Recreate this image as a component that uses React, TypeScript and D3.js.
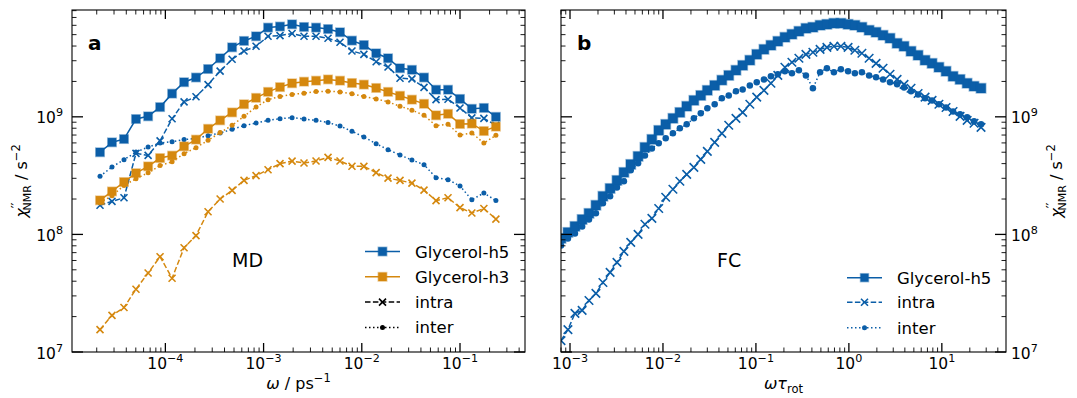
import React from 'react';
import * as d3 from 'd3';

// ---------------- data ----------------
// Panel a (MD): angular frequency in ps^-1
const xMD = [2.16e-5, 2.86e-5, 3.79e-5, 5.02e-5, 6.67e-5, 8.83e-5, 1.17e-4, 1.55e-4, 2.05e-4, 2.72e-4, 3.61e-4, 4.78e-4, 6.32e-4, 8.38e-4, 1.11e-3, 1.47e-3, 1.95e-3, 2.58e-3, 3.42e-3, 4.53e-3, 6.0e-3, 7.94e-3, 1.05e-2, 1.40e-2, 1.85e-2, 2.45e-2, 3.24e-2, 4.30e-2, 5.70e-2, 7.55e-2, 0.100, 0.132, 0.175, 0.232];
const h5Total = [5.0e8, 6.07e8, 6.47e8, 9.58e8, 1.01e9, 1.21e9, 1.575e9, 1.97e9, 2.16e9, 2.55e9, 3.15e9, 3.90e9, 4.42e9, 4.84e9, 5.74e9, 5.86e9, 6.12e9, 5.81e9, 5.74e9, 5.58e9, 5.24e9, 4.45e9, 4.08e9, 3.47e9, 3.15e9, 2.59e9, 2.51e9, 2.16e9, 1.70e9, 1.70e9, 1.42e9, 1.17e9, 1.19e9, 1.0e9];
const h5Intra = [1.77e8, 1.91e8, 2.05e8, 4.89e8, 4.70e8, 6.25e8, 9.62e8, 1.34e9, 1.48e9, 1.88e9, 2.45e9, 3.09e9, 3.63e9, 3.98e9, 4.84e9, 4.91e9, 5.11e9, 4.84e9, 4.84e9, 4.66e9, 4.31e9, 3.63e9, 3.40e9, 2.94e9, 2.65e9, 2.13e9, 2.10e9, 1.78e9, 1.40e9, 1.41e9, 1.19e9, 9.8e8, 9.7e8, 8.47e8];
const h5Inter = [3.12e8, 3.74e8, 4.32e8, 5.01e8, 5.53e8, 5.98e8, 6.15e8, 6.40e8, 6.56e8, 6.92e8, 7.28e8, 7.83e8, 8.41e8, 8.86e8, 9.33e8, 9.65e8, 9.84e8, 9.58e8, 9.33e8, 8.93e8, 8.35e8, 7.53e8, 6.73e8, 5.91e8, 5.26e8, 4.73e8, 4.29e8, 3.92e8, 3.04e8, 2.92e8, 2.58e8, 1.97e8, 2.25e8, 1.94e8];
const h3Total = [1.95e8, 2.32e8, 2.79e8, 3.32e8, 3.79e8, 4.46e8, 4.68e8, 5.61e8, 6.40e8, 7.91e8, 9.33e8, 1.09e9, 1.28e9, 1.45e9, 1.63e9, 1.79e9, 1.93e9, 1.99e9, 2.03e9, 2.08e9, 2.03e9, 1.94e9, 1.88e9, 1.76e9, 1.63e9, 1.51e9, 1.40e9, 1.29e9, 1.03e9, 1.06e9, 8.69e8, 8.75e8, 7.57e8, 8.25e8];
const h3Intra = [1.55e7, 2.05e7, 2.39e7, 3.42e7, 4.70e7, 6.46e7, 4.24e7, 7.71e7, 9.77e7, 1.56e8, 2.0e8, 2.37e8, 2.88e8, 3.16e8, 3.55e8, 4.0e8, 4.20e8, 4.05e8, 4.21e8, 4.52e8, 4.21e8, 3.80e8, 3.79e8, 3.35e8, 3.01e8, 2.88e8, 2.73e8, 2.38e8, 1.94e8, 2.05e8, 1.69e8, 1.52e8, 1.66e8, 1.35e8];
const h3Inter = [1.87e8, 2.13e8, 2.61e8, 2.98e8, 3.34e8, 3.85e8, 4.14e8, 4.86e8, 5.47e8, 6.31e8, 7.34e8, 8.47e8, 1.01e9, 1.21e9, 1.40e9, 1.49e9, 1.55e9, 1.59e9, 1.64e9, 1.65e9, 1.63e9, 1.57e9, 1.49e9, 1.42e9, 1.34e9, 1.23e9, 1.14e9, 1.03e9, 8.41e8, 8.63e8, 7.00e8, 7.28e8, 5.98e8, 6.96e8];

// Panel b (FC): reduced frequency omega*tau_rot
const xFC = [8.0e-4, 9.5e-4, 1.13e-3, 1.35e-3, 1.6e-3, 1.9e-3, 2.26e-3, 2.7e-3, 3.2e-3, 3.8e-3, 4.5e-3, 5.4e-3, 6.4e-3, 7.6e-3, 9.0e-3, 1.07e-2, 1.28e-2, 1.52e-2, 1.8e-2, 2.15e-2, 2.55e-2, 3.0e-2, 3.6e-2, 4.3e-2, 5.1e-2, 6.1e-2, 7.2e-2, 8.6e-2, 0.102, 0.122, 0.145, 0.172, 0.205, 0.244, 0.29, 0.345, 0.41, 0.49, 0.58, 0.69, 0.82, 0.98, 1.16, 1.38, 1.65, 1.96, 2.33, 2.77, 3.3, 3.92, 4.66, 5.55, 6.6, 7.85, 9.3, 11.1, 13.2, 15.7, 18.7, 22.2, 26.4];
const fcTotal = [9.25e7, 1.04e8, 1.17e8, 1.34e8, 1.51e8, 1.77e8, 2.11e8, 2.46e8, 2.88e8, 3.37e8, 3.94e8, 4.61e8, 5.50e8, 6.43e8, 7.67e8, 8.63e8, 9.71e8, 1.09e9, 1.23e9, 1.38e9, 1.52e9, 1.68e9, 1.85e9, 2.05e9, 2.25e9, 2.49e9, 2.74e9, 3.03e9, 3.40e9, 3.75e9, 4.06e9, 4.39e9, 4.75e9, 5.04e9, 5.34e9, 5.66e9, 5.78e9, 6.01e9, 6.12e9, 6.25e9, 6.25e9, 6.12e9, 6.01e9, 5.78e9, 5.45e9, 5.24e9, 4.94e9, 4.66e9, 4.22e9, 3.98e9, 3.61e9, 3.34e9, 3.03e9, 2.85e9, 2.64e9, 2.44e9, 2.21e9, 2.08e9, 1.93e9, 1.82e9, 1.75e9];
const fcIntra = [1.25e7, 1.55e7, 2.13e7, 2.26e7, 2.74e7, 3.15e7, 3.90e7, 4.75e7, 5.78e7, 7.17e7, 8.55e7, 1.00e8, 1.22e8, 1.37e8, 1.66e8, 2.07e8, 2.42e8, 2.83e8, 3.24e8, 3.72e8, 4.35e8, 5.09e8, 6.07e8, 7.24e8, 8.47e8, 9.71e8, 1.09e9, 1.28e9, 1.47e9, 1.68e9, 1.93e9, 2.25e9, 2.64e9, 2.91e9, 3.15e9, 3.40e9, 3.54e9, 3.75e9, 3.90e9, 3.98e9, 3.98e9, 3.90e9, 3.68e9, 3.47e9, 3.15e9, 2.85e9, 2.59e9, 2.30e9, 2.08e9, 1.89e9, 1.75e9, 1.58e9, 1.47e9, 1.38e9, 1.28e9, 1.20e9, 1.11e9, 1.01e9, 9.34e8, 8.81e8, 8.14e8];
const fcInter = [8.06e7, 9.25e7, 1.02e8, 1.17e8, 1.34e8, 1.51e8, 1.84e8, 2.11e8, 2.51e8, 2.83e8, 3.51e8, 4.02e8, 4.70e8, 5.39e8, 5.95e8, 6.56e8, 7.24e8, 7.98e8, 8.63e8, 9.71e8, 1.07e9, 1.18e9, 1.28e9, 1.44e9, 1.52e9, 1.65e9, 1.71e9, 1.85e9, 1.97e9, 2.08e9, 2.21e9, 2.30e9, 2.44e9, 2.35e9, 2.49e9, 2.25e9, 1.75e9, 2.39e9, 2.59e9, 2.39e9, 2.54e9, 2.44e9, 2.35e9, 2.39e9, 2.25e9, 2.17e9, 2.08e9, 1.97e9, 1.89e9, 1.78e9, 1.65e9, 1.55e9, 1.44e9, 1.38e9, 1.28e9, 1.20e9, 1.11e9, 1.05e9, 9.90e8, 9.16e8, 8.63e8];

const legendLabelsMD = ['Glycerol-h5', 'Glycerol-h3', 'intra', 'inter'];
const legendLabelsFC = ['Glycerol-h5', 'intra', 'inter'];

// ---------------- styling ----------------
const W = 1077;
const H = 398;
const BLUE = '#0b5ea8';
const ORANGE = '#d5880e';
const INK = '#000';
const FONT = '"DejaVu Sans", Verdana, sans-serif';
const TICK_FS = 15.5;
const DASH: Record<string, string | undefined> = { solid: undefined, dashed: '5.5,2.4', dotted: '1.5,2.5' };

const PL = { x0: 72, x1: 525, y0: 10, y1: 352 };
const PR = { x0: 561, x1: 1006, y0: 10, y1: 352 };

const yScale = d3.scaleLog().domain([1e7, 8.1e9]).range([PL.y1, PL.y0]);
const xL = d3.scaleLog().domain([1.12e-5, 0.459]).range([PL.x0, PL.x1]);
const xR = d3.scaleLog().domain([8.0e-4, 49]).range([PR.x0, PR.x1]);

type Kind = 'square' | 'cross' | 'dot';

function Marker({ kind, x, y, color, size }: { kind: Kind; x: number; y: number; color: string; size: number }) {
  if (kind === 'square') {
    return <rect x={x - size / 2} y={y - size / 2} width={size} height={size} fill={color} stroke={color} strokeOpacity={0.4} strokeWidth={1.5} />;
  }
  if (kind === 'cross') {
    const h = size / 2;
    return <path d={`M${x - h},${y - h}L${x + h},${y + h}M${x - h},${y + h}L${x + h},${y - h}`} stroke={color} strokeWidth={1.6} fill="none" />;
  }
  return <circle cx={x} cy={y} r={size / 2} fill={color} />;
}

function Series({ xs, ys, sx, color, dash, kind, size, lw = 1.5 }: any) {
  const pts: [number, number][] = xs.map((x: number, i: number) => [sx(x), yScale(ys[i])]);
  const line = d3.line()(pts) || '';
  return (
    <g>
      <path d={line} fill="none" stroke={color} strokeWidth={lw} strokeDasharray={DASH[dash]} />
      {pts.map((p, i) => <Marker key={i} kind={kind} x={p[0]} y={p[1]} color={color} size={size} />)}
    </g>
  );
}

function logTicks(domain: number[]) {
  const [a, b] = domain;
  const majors: number[] = [];
  const minors: number[] = [];
  for (let e = Math.floor(Math.log10(a)); e <= Math.ceil(Math.log10(b)); e++) {
    for (let k = 1; k <= 9; k++) {
      const v = k * Math.pow(10, e);
      if (v >= a * 0.999 && v <= b * 1.001) (k === 1 ? majors : minors).push(v);
    }
  }
  return { majors, minors };
}

function PowLabel({ v, x, y, anchor }: { v: number; x: number; y: number; anchor: string }) {
  const e = Math.round(Math.log10(v));
  const s = e < 0 ? `\u2212${-e}` : `${e}`;
  return (
    <text x={x} y={y} textAnchor={anchor} fontSize={TICK_FS} fontFamily={FONT} fill={INK}>
      10<tspan dy={-7} fontSize={TICK_FS * 0.72}>{s}</tspan>
    </text>
  );
}

function Frame({ P, sx, yLabelsSide }: { P: any; sx: any; yLabelsSide: 'left' | 'right' }) {
  const xt = logTicks(sx.domain());
  const yt = logTicks(yScale.domain());
  const MAJ = 9;
  const MIN = 4.5;
  const els: any[] = [];
  xt.majors.forEach((v, i) => {
    const x = sx(v);
    els.push(<line key={'xm' + i} x1={x} x2={x} y1={P.y1} y2={P.y1 - MAJ} stroke={INK} strokeWidth={1.3} />);
    els.push(<line key={'xmt' + i} x1={x} x2={x} y1={P.y0} y2={P.y0 + MAJ} stroke={INK} strokeWidth={1.3} />);
    els.push(<PowLabel key={'xl' + i} v={v} x={x} y={P.y1 + 17} anchor="middle" />);
  });
  xt.minors.forEach((v, i) => {
    const x = sx(v);
    els.push(<line key={'xn' + i} x1={x} x2={x} y1={P.y1} y2={P.y1 - MIN} stroke={INK} strokeWidth={0.9} />);
    els.push(<line key={'xnt' + i} x1={x} x2={x} y1={P.y0} y2={P.y0 + MIN} stroke={INK} strokeWidth={0.9} />);
  });
  yt.majors.forEach((v, i) => {
    const y = yScale(v);
    els.push(<line key={'ym' + i} x1={P.x0} x2={P.x0 + MAJ + 2} y1={y} y2={y} stroke={INK} strokeWidth={1.3} />);
    els.push(<line key={'ymr' + i} x1={P.x1} x2={P.x1 - MAJ - 2} y1={y} y2={y} stroke={INK} strokeWidth={1.3} />);
    if (yLabelsSide === 'left') els.push(<PowLabel key={'yl' + i} v={v} x={P.x0 - 9} y={y + 6.5} anchor="end" />);
    else els.push(<PowLabel key={'yl' + i} v={v} x={P.x1 + 5} y={y + 6.5} anchor="start" />);
  });
  yt.minors.forEach((v, i) => {
    const y = yScale(v);
    els.push(<line key={'yn' + i} x1={P.x0} x2={P.x0 + MIN} y1={y} y2={y} stroke={INK} strokeWidth={0.9} />);
    els.push(<line key={'ynr' + i} x1={P.x1} x2={P.x1 - MIN} y1={y} y2={y} stroke={INK} strokeWidth={0.9} />);
  });
  return (
    <g>
      <rect x={P.x0} y={P.y0} width={P.x1 - P.x0} height={P.y1 - P.y0} fill="none" stroke={INK} strokeWidth={1.1} />
      {els}
    </g>
  );
}

function YLabel({ x, y }: { x: number; y: number }) {
  return (
    <text transform={`translate(${x},${y}) rotate(-90)`} textAnchor="middle" fontSize={16} fontFamily={FONT} fill={INK}>
      <tspan fontStyle="italic">χ</tspan>
      <tspan dy={-7} fontSize={13}>′′</tspan>
      <tspan dy={11} dx={-8} fontSize={11}>NMR</tspan>
      <tspan dy={-4}> / s</tspan>
      <tspan dy={-7} fontSize={11.5}>−2</tspan>
    </text>
  );
}

function LegendRow({ x, y, label, color, dash, kind, size }: any) {
  return (
    <g>
      <line x1={x} x2={x + 35} y1={y} y2={y} stroke={color} strokeWidth={1.5} strokeDasharray={DASH[dash]} />
      <Marker kind={kind} x={x + 17.5} y={y} color={color} size={size} />
      <text x={x + 50} y={y + 6} fontSize={16.5} fontFamily={FONT} fill={INK}>{label}</text>
    </g>
  );
}

export default function App() {
  const mdStyles = [
    { color: BLUE, dash: 'solid', kind: 'square', size: 8.5 },
    { color: ORANGE, dash: 'solid', kind: 'square', size: 8.5 },
    { color: INK, dash: 'dashed', kind: 'cross', size: 7 },
    { color: INK, dash: 'dotted', kind: 'dot', size: 5 },
  ];
  const fcStyles = [
    { color: BLUE, dash: 'solid', kind: 'square', size: 8 },
    { color: BLUE, dash: 'dashed', kind: 'cross', size: 7 },
    { color: BLUE, dash: 'dotted', kind: 'dot', size: 5 },
  ];
  const mdRows = [251.5, 276.8, 302.1, 327.4];
  const fcRows = [277.7, 302.3, 327.7];
  return (
    <svg width={W} height={H} style={{ position: 'absolute', left: 0, top: 0, background: '#fff' }} fontFamily={FONT}>
      <defs>
        <clipPath id="clipL"><rect x={PL.x0} y={PL.y0} width={PL.x1 - PL.x0} height={PL.y1 - PL.y0} /></clipPath>
        <clipPath id="clipR"><rect x={PR.x0} y={PR.y0} width={PR.x1 - PR.x0} height={PR.y1 - PR.y0} /></clipPath>
      </defs>
      <rect x={0} y={0} width={W} height={H} fill="#fff" />

      {/* Panel a */}
      <g clipPath="url(#clipL)">
        <Series xs={xMD} ys={h5Total} sx={xL} color={BLUE} dash="solid" kind="square" size={8.5} />
        <Series xs={xMD} ys={h5Intra} sx={xL} color={BLUE} dash="dashed" kind="cross" size={7} />
        <Series xs={xMD} ys={h5Inter} sx={xL} color={BLUE} dash="dotted" kind="dot" size={5} />
        <Series xs={xMD} ys={h3Total} sx={xL} color={ORANGE} dash="solid" kind="square" size={8.5} />
        <Series xs={xMD} ys={h3Intra} sx={xL} color={ORANGE} dash="dashed" kind="cross" size={7} />
        <Series xs={xMD} ys={h3Inter} sx={xL} color={ORANGE} dash="dotted" kind="dot" size={5} />
      </g>
      <Frame P={PL} sx={xL} yLabelsSide="left" />
      <text x={88} y={50} fontSize={20} fontWeight="bold" fontFamily={FONT}>a</text>
      <text x={232} y={267} fontSize={19} fontFamily={FONT}>MD</text>
      {legendLabelsMD.map((lab, i) => (
        <LegendRow key={lab} x={365} y={mdRows[i]} label={lab} {...mdStyles[i]} />
      ))}
      <YLabel x={27} y={181} />
      <text x={(PL.x0 + PL.x1) / 2} y={389} textAnchor="middle" fontSize={16} fontFamily={FONT}>
        <tspan fontStyle="italic">ω</tspan> / ps<tspan dy={-7} fontSize={11.5}>−1</tspan>
      </text>

      {/* Panel b */}
      <g clipPath="url(#clipR)">
        <Series xs={xFC} ys={fcTotal} sx={xR} color={BLUE} dash="solid" kind="square" size={9.5} />
        <Series xs={xFC} ys={fcIntra} sx={xR} color={BLUE} dash="dashed" kind="cross" size={8.5} />
        <Series xs={xFC} ys={fcInter} sx={xR} color={BLUE} dash="dotted" kind="dot" size={6.5} />
      </g>
      <Frame P={PR} sx={xR} yLabelsSide="right" />
      <text x={577} y={50} fontSize={20} fontWeight="bold" fontFamily={FONT}>b</text>
      <text x={717} y={267} fontSize={19} fontFamily={FONT}>FC</text>
      {legendLabelsFC.map((lab, i) => (
        <LegendRow key={lab} x={847} y={fcRows[i]} label={lab} {...fcStyles[i]} />
      ))}
      <YLabel x={1062} y={181} />
      <text x={(PR.x0 + PR.x1) / 2} y={389} textAnchor="middle" fontSize={16} fontFamily={FONT}>
        <tspan fontStyle="italic">ωτ</tspan><tspan dy={4} fontSize={11.5}>rot</tspan>
      </text>
    </svg>
  );
}
